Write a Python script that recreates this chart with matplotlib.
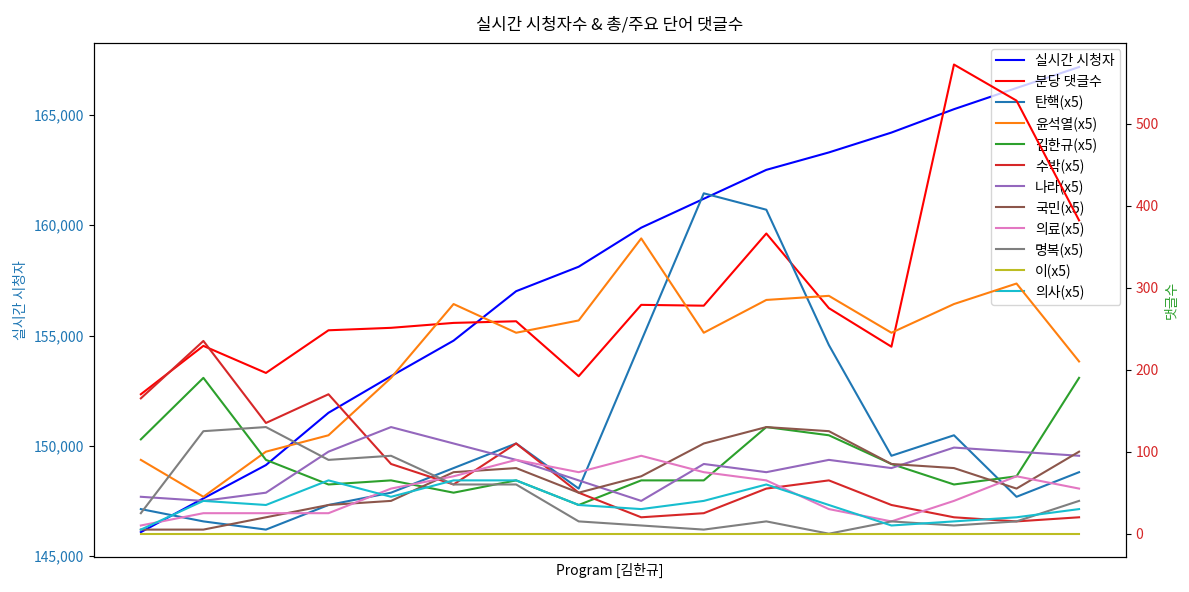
import matplotlib
matplotlib.use("Agg")
import matplotlib.pyplot as plt
from matplotlib.ticker import FuncFormatter

plt.rcParams['font.family'] = ['Noto Sans CJK KR', 'DejaVu Sans']
plt.rcParams['axes.unicode_minus'] = False

x = list(range(16))
viewers = [146090, 147620, 149130, 151500, 153160, 154770, 157010, 158120,
           159890, 161200, 162510, 163300, 164200, 165260, 166220, 167170]
comments = [170, 229, 196, 248, 251, 257, 259, 192, 279, 278, 366, 275, 228, 572, 528, 382]

kw_names = ['탄핵', '윤석열', '김한규', '수박', '나라', '국민', '의료', '명복', '이', '의사']
kw_tanhaek = [30, 15, 5, 35, 50, 80, 110, 55, 235, 415, 395, 230, 95, 120, 45, 75]
kw_yoon = [90, 45, 100, 120, 190, 280, 245, 260, 360, 245, 285, 290, 245, 280, 305, 210]
kw_kim = [115, 190, 90, 60, 65, 50, 65, 35, 65, 65, 130, 120, 85, 60, 70, 190]
kw_subak = [165, 235, 135, 170, 85, 60, 110, 50, 20, 25, 55, 65, 35, 20, 15, 20]
kw_nara = [45, 40, 50, 100, 130, 110, 90, 65, 40, 85, 75, 90, 80, 105, 100, 95]
kw_gukmin = [5, 5, 20, 35, 40, 75, 80, 50, 70, 110, 130, 125, 85, 80, 55, 100]
kw_uiryo = [10, 25, 25, 25, 55, 70, 90, 75, 95, 75, 65, 30, 15, 40, 70, 55]
kw_myeongbok = [25, 125, 130, 90, 95, 60, 60, 15, 10, 5, 15, 0, 15, 10, 15, 40]
kw_i = [0] * 16
kw_uisa = [5, 40, 35, 65, 45, 65, 65, 35, 30, 40, 60, 35, 10, 15, 20, 30]
kw_values = [kw_tanhaek, kw_yoon, kw_kim, kw_subak, kw_nara, kw_gukmin,
             kw_uiryo, kw_myeongbok, kw_i, kw_uisa]
kw_colors = ['tab:blue', 'tab:orange', 'tab:green', 'tab:red', 'tab:purple',
             'tab:brown', 'tab:pink', 'tab:gray', 'tab:olive', 'tab:cyan']

fig, ax = plt.subplots(figsize=(11.89, 5.92), dpi=100)
ax2 = ax.twinx()

l1, = ax.plot(x, viewers, color='blue', label='실시간 시청자')
l2, = ax2.plot(x, comments, color='red', label='분당 댓글수')
handles = [l1, l2]
for name, vals, c in zip(kw_names, kw_values, kw_colors):
    h, = ax2.plot(x, vals, color=c, label=f'{name}(x5)')
    handles.append(h)

ax.set_xticks([])
ax.set_xlabel('Program [김한규]')
ax.set_ylabel('실시간 시청자', color='tab:blue')
ax.tick_params(axis='y', labelcolor='tab:blue')
ax.yaxis.set_major_formatter(FuncFormatter(lambda v, p: f'{v:,.0f}'))
ax.set_ylim(144960, 168250)
ax2.set_ylim(-28.5, 598)
ax2.set_ylabel('댓글수', color='tab:green')
ax2.tick_params(axis='y', labelcolor='tab:red')

ax.legend(handles, [h.get_label() for h in handles], loc='upper right',
          labelspacing=0.45, borderaxespad=0.4)
ax.set_title('실시간 시청자수 & 총/주요 단어 댓글수', pad=10)

fig.subplots_adjust(left=0.079, right=0.947, top=0.927, bottom=0.059)
fig.savefig('out.png', dpi=100)
